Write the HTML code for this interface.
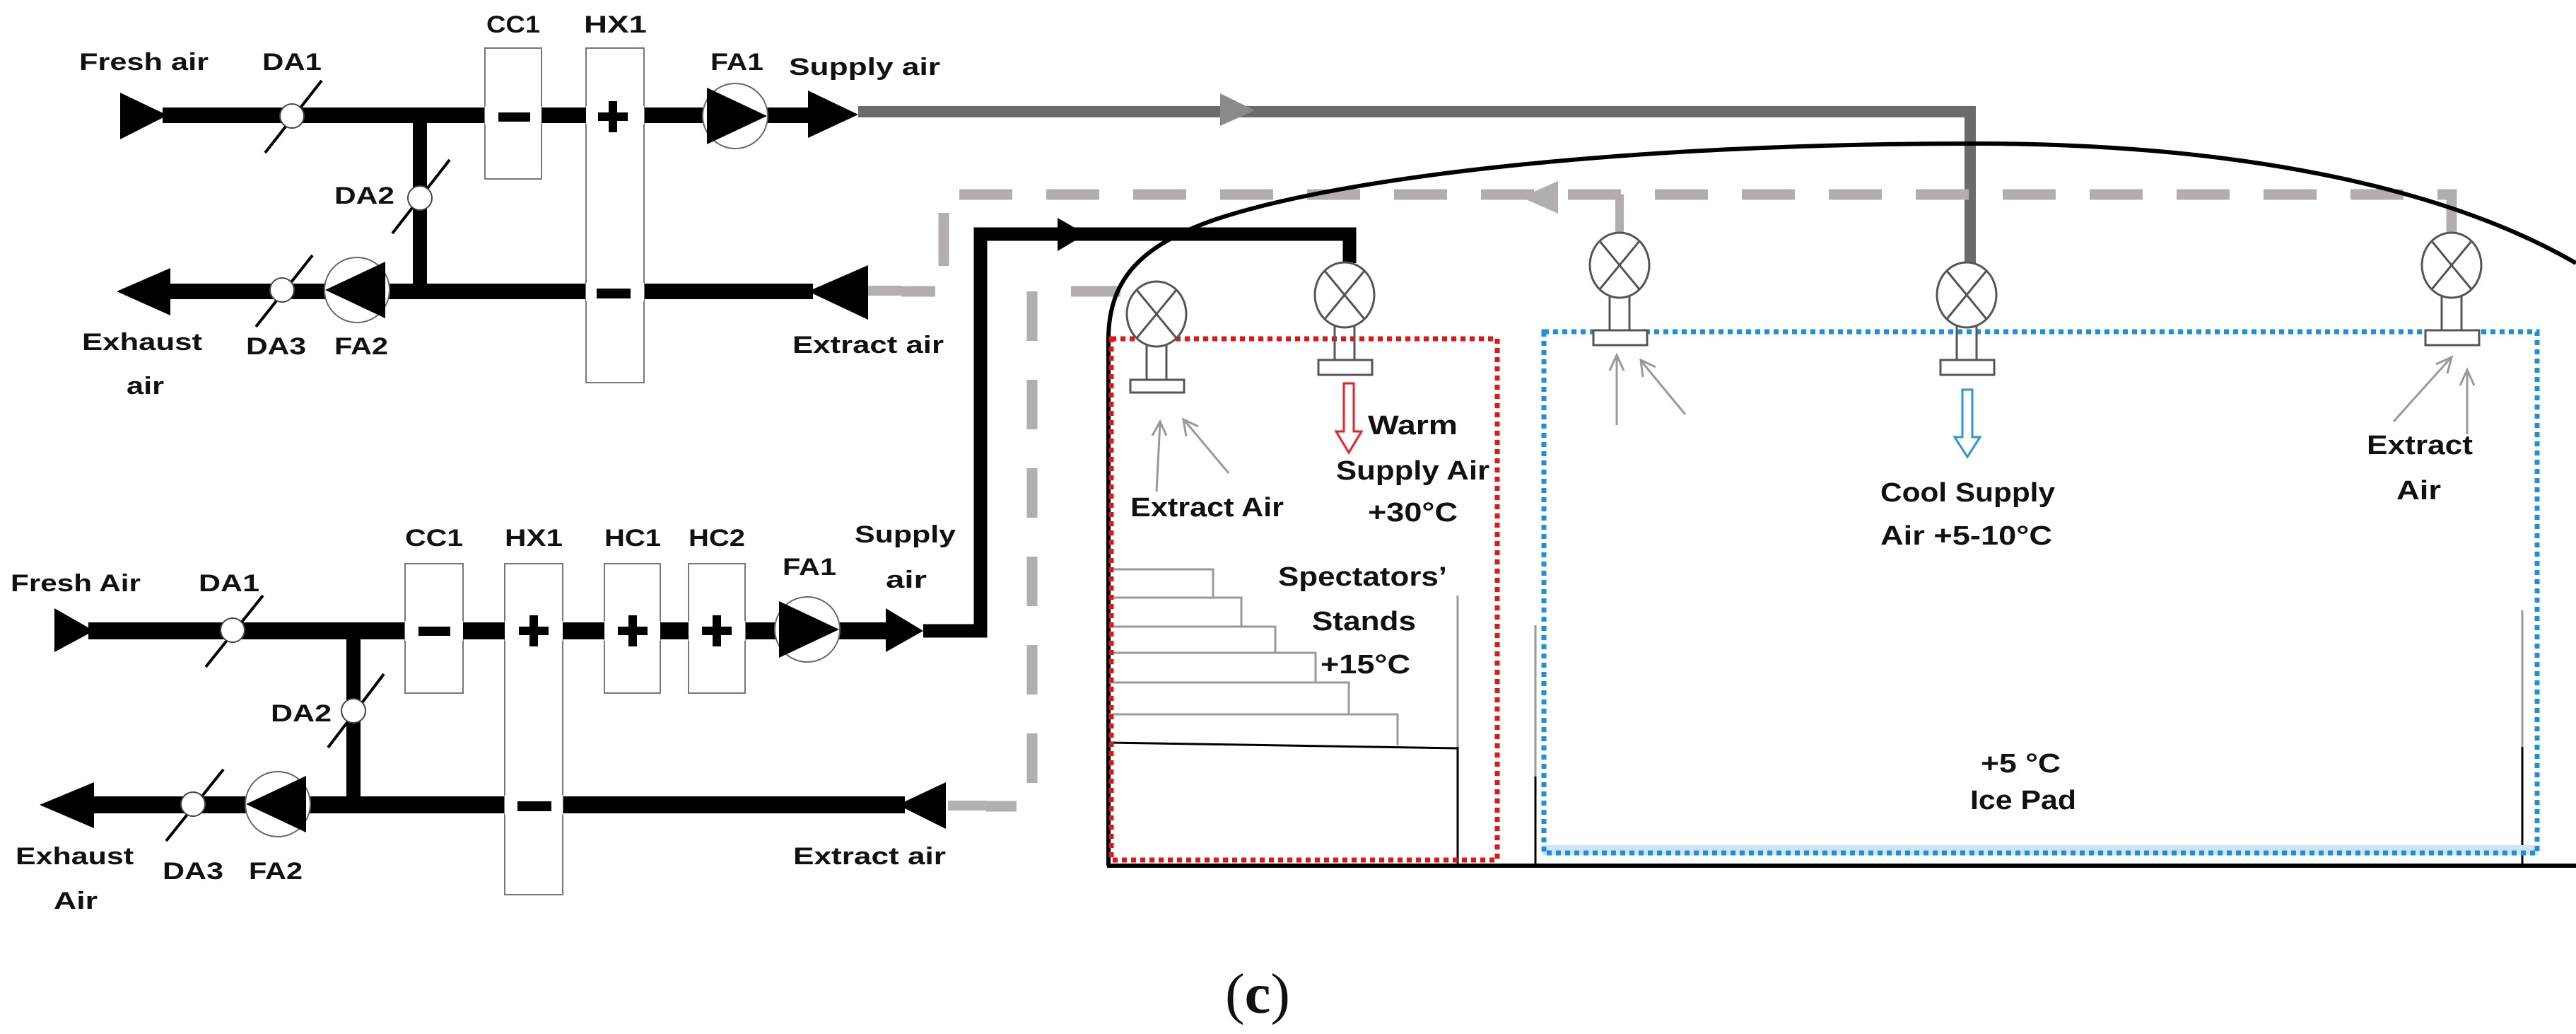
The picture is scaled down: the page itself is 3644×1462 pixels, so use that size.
<!DOCTYPE html>
<html><head><meta charset="utf-8"><style>
html,body{margin:0;padding:0;background:#fff;}
svg{display:block;}
text{font-family:"Liberation Sans",sans-serif;font-weight:bold;fill:#111;}
</style></head><body>
<svg width="3644" height="1462" viewBox="0 0 3644 1462" xmlns="http://www.w3.org/2000/svg">
<!-- ===== Top AHU ===== -->
<g>
<line x1="230" y1="163" x2="1150" y2="163" stroke="#000" stroke-width="22"/>
<polygon points="170,131 237,163 170,197" fill="#000"/>
<polygon points="1143,128 1214,162 1143,195" fill="#000"/>
<line x1="594" y1="163" x2="594" y2="412" stroke="#000" stroke-width="20"/>
<line x1="240" y1="412" x2="1150" y2="412" stroke="#000" stroke-width="22"/>
<polygon points="241,379 165,412 241,446" fill="#000"/>
<polygon points="1228,375 1143,412 1228,452" fill="#000"/>
<rect x="1228" y="404" width="48" height="14" fill="#b5b0b0"/>
<!-- boxes -->
<rect x="686" y="68" width="80" height="185" fill="#fff" stroke="#777" stroke-width="2"/>
<rect x="829" y="68" width="82" height="473" fill="#fff" stroke="#777" stroke-width="2"/>
<line x1="686" y1="163" x2="911" y2="163" stroke="#000" stroke-width="22"/>
<line x1="829" y1="412" x2="911" y2="412" stroke="#000" stroke-width="22"/>
<rect x="686" y="150" width="80" height="26" fill="#fff"/>
<rect x="705" y="159" width="45" height="13" fill="#000"/>
<rect x="829" y="150" width="82" height="26" fill="#fff"/>
<rect x="846" y="159" width="42" height="12" fill="#000"/><rect x="861" y="143" width="12" height="44" fill="#000"/>
<rect x="829" y="400" width="82" height="26" fill="#fff"/>
<rect x="844" y="408" width="48" height="14" fill="#000"/>
<!-- dampers -->
<line x1="455" y1="114" x2="375" y2="216" stroke="#000" stroke-width="4"/>
<circle cx="413" cy="164" r="17" fill="#fff" stroke="#444" stroke-width="2"/>
<line x1="636" y1="226" x2="555" y2="330" stroke="#000" stroke-width="4"/>
<circle cx="594" cy="280" r="17" fill="#fff" stroke="#444" stroke-width="2"/>
<line x1="442" y1="361" x2="362" y2="462" stroke="#000" stroke-width="4"/>
<circle cx="399" cy="410" r="17" fill="#fff" stroke="#444" stroke-width="2"/>
<!-- fans -->
<circle cx="1040" cy="164" r="46" fill="#fff" stroke="#666" stroke-width="2"/>
<polygon points="1000,124 1085,164 1000,204" fill="#000"/>
<circle cx="505" cy="410" r="46" fill="#fff" stroke="#666" stroke-width="2"/>
<polygon points="545,370 460,410 545,450" fill="#000"/>
</g>
<text x="112" y="99" font-size="34" textLength="183" lengthAdjust="spacingAndGlyphs">Fresh air</text>
<text x="371" y="99" font-size="34" textLength="84" lengthAdjust="spacingAndGlyphs">DA1</text>
<text x="688" y="46" font-size="34" textLength="76" lengthAdjust="spacingAndGlyphs">CC1</text>
<text x="826" y="46" font-size="34" textLength="89" lengthAdjust="spacingAndGlyphs">HX1</text>
<text x="1005" y="99" font-size="34" textLength="75" lengthAdjust="spacingAndGlyphs">FA1</text>
<text x="1116" y="106" font-size="34" textLength="214" lengthAdjust="spacingAndGlyphs">Supply air</text>
<text x="473" y="288" font-size="34" textLength="85" lengthAdjust="spacingAndGlyphs">DA2</text>
<text x="116" y="495" font-size="34" textLength="170" lengthAdjust="spacingAndGlyphs">Exhaust</text>
<text x="179" y="557" font-size="34" textLength="53" lengthAdjust="spacingAndGlyphs">air</text>
<text x="348" y="501" font-size="34" textLength="85" lengthAdjust="spacingAndGlyphs">DA3</text>
<text x="473" y="501" font-size="34" textLength="76" lengthAdjust="spacingAndGlyphs">FA2</text>
<text x="1121" y="499" font-size="34" textLength="214" lengthAdjust="spacingAndGlyphs">Extract air</text>

<!-- ===== Lower AHU ===== -->
<g>
<line x1="125" y1="892" x2="1270" y2="892" stroke="#000" stroke-width="24"/>
<polygon points="77,860 133,892 77,922" fill="#000"/>
<polygon points="1253,860 1306,892 1253,922" fill="#000"/>
<line x1="500" y1="892" x2="500" y2="1138" stroke="#000" stroke-width="20"/>
<line x1="125" y1="1138" x2="1280" y2="1138" stroke="#000" stroke-width="24"/>
<polygon points="133,1106 56,1138 133,1171" fill="#000"/>
<polygon points="1338,1106 1270,1138 1338,1172" fill="#000"/>
<rect x="1341" y="1132" width="54" height="14" fill="#b5b0b0"/>
<rect x="573" y="797" width="82" height="183" fill="#fff" stroke="#777" stroke-width="2"/>
<rect x="714" y="797" width="82" height="468" fill="#fff" stroke="#777" stroke-width="2"/>
<rect x="855" y="797" width="79" height="183" fill="#fff" stroke="#777" stroke-width="2"/>
<rect x="974" y="797" width="80" height="183" fill="#fff" stroke="#777" stroke-width="2"/>
<line x1="573" y1="892" x2="1054" y2="892" stroke="#000" stroke-width="24"/>
<rect x="573" y="878" width="82" height="28" fill="#fff"/><rect x="592" y="886" width="45" height="13" fill="#000"/>
<rect x="714" y="878" width="82" height="28" fill="#fff"/><rect x="734" y="886" width="42" height="12" fill="#000"/><rect x="749" y="870" width="12" height="44" fill="#000"/>
<rect x="855" y="878" width="79" height="28" fill="#fff"/><rect x="874" y="886" width="42" height="12" fill="#000"/><rect x="889" y="870" width="12" height="44" fill="#000"/>
<rect x="974" y="878" width="80" height="28" fill="#fff"/><rect x="993" y="886" width="42" height="12" fill="#000"/><rect x="1008" y="870" width="12" height="44" fill="#000"/>
<rect x="714" y="1124" width="82" height="28" fill="#fff"/><rect x="732" y="1133" width="48" height="14" fill="#000"/>
<line x1="372" y1="842" x2="291" y2="943" stroke="#000" stroke-width="4"/>
<circle cx="329" cy="891" r="17" fill="#fff" stroke="#444" stroke-width="2"/>
<line x1="543" y1="953" x2="464" y2="1057" stroke="#000" stroke-width="4"/>
<circle cx="500" cy="1005" r="17" fill="#fff" stroke="#444" stroke-width="2"/>
<line x1="316" y1="1088" x2="235" y2="1189" stroke="#000" stroke-width="4"/>
<circle cx="273" cy="1137" r="17" fill="#fff" stroke="#444" stroke-width="2"/>
<circle cx="1142" cy="890" r="46" fill="#fff" stroke="#666" stroke-width="2"/>
<polygon points="1102,850 1187,890 1102,930" fill="#000"/>
<circle cx="393" cy="1137" r="46" fill="#fff" stroke="#666" stroke-width="2"/>
<polygon points="433,1097 348,1137 433,1177" fill="#000"/>
</g>
<text x="15" y="836" font-size="34" textLength="184" lengthAdjust="spacingAndGlyphs">Fresh Air</text>
<text x="281" y="836" font-size="34" textLength="86" lengthAdjust="spacingAndGlyphs">DA1</text>
<text x="573" y="772" font-size="34" textLength="82" lengthAdjust="spacingAndGlyphs">CC1</text>
<text x="714" y="772" font-size="34" textLength="82" lengthAdjust="spacingAndGlyphs">HX1</text>
<text x="855" y="772" font-size="34" textLength="80" lengthAdjust="spacingAndGlyphs">HC1</text>
<text x="974" y="772" font-size="34" textLength="80" lengthAdjust="spacingAndGlyphs">HC2</text>
<text x="1107" y="813" font-size="34" textLength="76" lengthAdjust="spacingAndGlyphs">FA1</text>
<text x="1209" y="767" font-size="34" textLength="143" lengthAdjust="spacingAndGlyphs">Supply</text>
<text x="1253" y="831" font-size="34" textLength="58" lengthAdjust="spacingAndGlyphs">air</text>
<text x="383" y="1020" font-size="34" textLength="86" lengthAdjust="spacingAndGlyphs">DA2</text>
<text x="22" y="1222" font-size="34" textLength="167" lengthAdjust="spacingAndGlyphs">Exhaust</text>
<text x="76" y="1285" font-size="34" textLength="62" lengthAdjust="spacingAndGlyphs">Air</text>
<text x="230" y="1243" font-size="34" textLength="86" lengthAdjust="spacingAndGlyphs">DA3</text>
<text x="352" y="1243" font-size="34" textLength="76" lengthAdjust="spacingAndGlyphs">FA2</text>
<text x="1122" y="1222" font-size="34" textLength="216" lengthAdjust="spacingAndGlyphs">Extract air</text>

<!-- ===== Ducts ===== -->
<!-- top supply gray -->
<polyline points="1214,158 2787,158 2787,372" fill="none" stroke="#6b6b6b" stroke-width="16"/>
<polygon points="1726,132 1775,156 1726,178" fill="#8a8a8a"/>
<!-- gray dashed extract outer -->
<polyline points="3468,330 3468,275 1335,275 1335,412 1276,412" fill="none" stroke="#b3aeae" stroke-width="15" stroke-dasharray="75 48"/>
<line x1="3468" y1="275" x2="3468" y2="330" stroke="#b3aeae" stroke-width="12"/>
<polyline points="2291,330 2291,275" fill="none" stroke="#b3aeae" stroke-width="12"/>
<polygon points="2204,256 2152,279 2204,302" fill="#b3aeae"/>
<!-- inner dashed -->
<polyline points="1585,412 1460,412 1460,1140 1395,1140" fill="none" stroke="#b3aeae" stroke-width="15" stroke-dasharray="70 55"/>
<!-- black supply -->
<polyline points="1306,892 1387,892 1387,331 1909,331 1909,372" fill="none" stroke="#000" stroke-width="19"/>
<polygon points="1496,308 1536,331 1496,355" fill="#000"/>

<!-- ===== Hall ===== -->
<path d="M1568,1224 L1568,480 C1568,390 1620,345 1720,310 C1900,250 2300,203 2795,203 C3150,203 3450,260 3644,372" fill="none" stroke="#000" stroke-width="6"/>
<line x1="1566" y1="1224" x2="3644" y2="1224" stroke="#000" stroke-width="6"/>
<!-- stands -->
<g stroke="#9a9a9a" stroke-width="3" fill="none">
<polyline points="1569,805 1716,805 1716,845 1756,845 1756,886 1804,886 1804,923 1861,923 1861,965 1908,965 1908,1010 1977,1010 1977,1054"/>
<line x1="1569" y1="845" x2="1716" y2="845"/>
<line x1="1569" y1="886" x2="1756" y2="886"/>
<line x1="1569" y1="923" x2="1804" y2="923"/>
<line x1="1569" y1="965" x2="1861" y2="965"/>
<line x1="1569" y1="1010" x2="1908" y2="1010"/>
<line x1="2062" y1="842" x2="2062" y2="1060"/>
<line x1="2172" y1="884" x2="2172" y2="1100"/>
<line x1="3568" y1="863" x2="3568" y2="1056"/>
</g>
<line x1="1569" y1="1050" x2="2062" y2="1058" stroke="#000" stroke-width="3"/>
<line x1="2062" y1="1056" x2="2062" y2="1222" stroke="#000" stroke-width="3"/>
<line x1="2172" y1="1098" x2="2172" y2="1222" stroke="#000" stroke-width="3"/>
<line x1="3568" y1="1056" x2="3568" y2="1222" stroke="#000" stroke-width="3"/>
<!-- zones -->
<rect x="2182" y="1195" width="1408" height="14" fill="#cfe4f5"/>
<rect x="1572" y="479" width="546" height="737" fill="none" stroke="#ee1111" stroke-width="7" stroke-dasharray="7 6"/>
<rect x="2184" y="469" width="1405" height="737" fill="none" stroke="#1d8fe0" stroke-width="7" stroke-dasharray="7 6"/>
<!-- fans -->
<g stroke="#555" stroke-width="3" fill="#fff">
<g transform="translate(1636,444)"><line x1="-14" y1="40" x2="-14" y2="93"/><line x1="14" y1="40" x2="14" y2="93"/><rect x="-37" y="93" width="76" height="18"/><ellipse rx="42" ry="46"/><line x1="-28" y1="-34" x2="28" y2="34"/><line x1="28" y1="-34" x2="-28" y2="34"/></g>
<g transform="translate(1902,417)"><line x1="-14" y1="40" x2="-14" y2="92"/><line x1="14" y1="40" x2="14" y2="92"/><rect x="-37" y="92" width="76" height="21"/><ellipse rx="42" ry="46"/><line x1="-28" y1="-34" x2="28" y2="34"/><line x1="28" y1="-34" x2="-28" y2="34"/></g>
<g transform="translate(2291,375)"><line x1="-14" y1="40" x2="-14" y2="92"/><line x1="14" y1="40" x2="14" y2="92"/><rect x="-37" y="92" width="76" height="21"/><ellipse rx="42" ry="46"/><line x1="-28" y1="-34" x2="28" y2="34"/><line x1="28" y1="-34" x2="-28" y2="34"/></g>
<g transform="translate(2782,417)"><line x1="-14" y1="40" x2="-14" y2="92"/><line x1="14" y1="40" x2="14" y2="92"/><rect x="-37" y="92" width="76" height="21"/><ellipse rx="42" ry="46"/><line x1="-28" y1="-34" x2="28" y2="34"/><line x1="28" y1="-34" x2="-28" y2="34"/></g>
<g transform="translate(3468,375)"><line x1="-14" y1="40" x2="-14" y2="92"/><line x1="14" y1="40" x2="14" y2="92"/><rect x="-37" y="92" width="76" height="21"/><ellipse rx="42" ry="46"/><line x1="-28" y1="-34" x2="28" y2="34"/><line x1="28" y1="-34" x2="-28" y2="34"/></g>
</g>
<!-- supply arrows -->
<path d="M1901,542 L1915,542 L1915,610 L1926,610 L1908,640 L1890,610 L1901,610 Z" fill="#fff" stroke="#ee2222" stroke-width="3"/>
<path d="M2776,551 L2790,551 L2790,618 L2801,618 L2783,646 L2765,618 L2776,618 Z" fill="#fff" stroke="#2a95e0" stroke-width="3"/>
<!-- extract arrows -->
<g stroke="#999" stroke-width="3" fill="none">
<line x1="1636" y1="695" x2="1641" y2="598"/><polyline points="1630,616 1641,596 1650,616"/>
<line x1="1738" y1="669" x2="1676" y2="595"/><polyline points="1678,617 1674,593 1695,603"/>
<line x1="2287" y1="601" x2="2287" y2="504"/><polyline points="2277,524 2287,502 2297,524"/>
<line x1="2384" y1="586" x2="2322" y2="511"/><polyline points="2324,533 2321,509 2342,519"/>
<line x1="3386" y1="596" x2="3466" y2="507"/><polyline points="3446,515 3468,505 3462,528"/>
<line x1="3490" y1="614" x2="3490" y2="525"/><polyline points="3480,545 3490,523 3500,545"/>
</g>
<!-- hall labels -->
<g font-size="38">
<text x="1599" y="730" textLength="217" lengthAdjust="spacingAndGlyphs">Extract Air</text>
<text x="1935" y="614" textLength="127" lengthAdjust="spacingAndGlyphs">Warm</text>
<text x="1890" y="678" textLength="217" lengthAdjust="spacingAndGlyphs">Supply Air</text>
<text x="1935" y="737" textLength="127" lengthAdjust="spacingAndGlyphs">+30°C</text>
<text x="1808" y="828" textLength="239" lengthAdjust="spacingAndGlyphs">Spectators’</text>
<text x="1856" y="891" textLength="147" lengthAdjust="spacingAndGlyphs">Stands</text>
<text x="1868" y="952" textLength="127" lengthAdjust="spacingAndGlyphs">+15°C</text>
<text x="2660" y="709" textLength="247" lengthAdjust="spacingAndGlyphs">Cool Supply</text>
<text x="2660" y="770" textLength="243" lengthAdjust="spacingAndGlyphs">Air +5-10°C</text>
<text x="3348" y="642" textLength="150" lengthAdjust="spacingAndGlyphs">Extract</text>
<text x="3390" y="706" textLength="63" lengthAdjust="spacingAndGlyphs">Air</text>
<text x="2802" y="1092" textLength="113" lengthAdjust="spacingAndGlyphs">+5 °C</text>
<text x="2787" y="1144" textLength="150" lengthAdjust="spacingAndGlyphs">Ice Pad</text>
</g>
<text x="1733" y="1432" font-family="Liberation Serif, serif" font-weight="normal" font-size="80" textLength="92" lengthAdjust="spacingAndGlyphs" style="font-family:'Liberation Serif',serif;font-weight:normal">(<tspan font-weight="bold" style="font-weight:bold">c</tspan>)</text>
</svg>
</body></html>
